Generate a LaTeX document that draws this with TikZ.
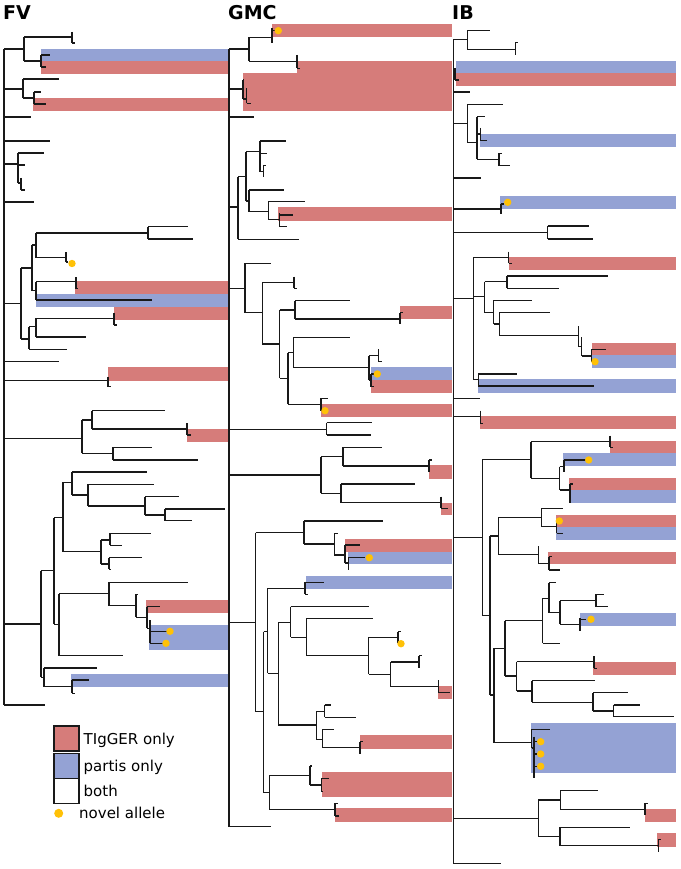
\documentclass[tikz,border=0pt]{standalone}
\usepackage{fontspec}
\setmainfont{DejaVu Sans}
\definecolor{redc}{RGB}{214,124,122}
\definecolor{bluec}{RGB}{148,162,212}
\definecolor{dotc}{RGB}{255,193,7}
\definecolor{linec}{RGB}{25,25,25}
\newcommand{\HB}[3]{\draw[br] (#2,#1) -- (#3,#1);}
\newcommand{\VB}[3]{\draw[br] (#1,#2) -- (#1,#3);}
\newcommand{\RB}[3]{\fill[redc] (#1,#2) rectangle (#3+0,#2+0) -- cycle;}
\begin{document}
\begin{tikzpicture}[x=1pt,y=-1pt,
  br/.style={draw=linec,line width=1.2pt,line cap=square},
  redbar/.style={fill=redc},
  bluebar/.style={fill=bluec},
  novel/.style={fill=dotc},
  title/.style={anchor=base west,inner sep=0pt,font=\fontsize{19}{22}\selectfont\bfseries},
  legtext/.style={anchor=base west,inner sep=0pt,font=\fontsize{15}{18}\selectfont},
  legbox/.style={draw=linec,line width=1.1pt}]
\useasboundingbox (0,0) rectangle (680,869);
\fill[white] (0,0) rectangle (680,869);
% ---------------- bars FV
\fill[bluebar] (41,49) rectangle (227.5,61);
\fill[redbar] (41,61) rectangle (227.5,74);
\fill[redbar] (33,98) rectangle (227.5,111);
\fill[redbar] (75,281) rectangle (227.5,294);
\fill[bluebar] (36,294) rectangle (227.5,307);
\fill[redbar] (114,307) rectangle (227.5,319.5);
\fill[redbar] (108,367) rectangle (227.5,381);
\fill[redbar] (187,428.5) rectangle (227.5,441.5);
\fill[redbar] (146,600) rectangle (227.5,613);
\fill[bluebar] (149,625) rectangle (227.5,650);
\fill[bluebar] (71,673.5) rectangle (227.5,686.5);
% ---------------- bars GMC
\fill[redbar] (272,24) rectangle (451.7,37);
\fill[redbar] (297,61) rectangle (451.7,73.5);
\fill[redbar] (243,73.5) rectangle (451.7,111);
\fill[redbar] (278.3,207.3) rectangle (451.7,220.7);
\fill[redbar] (400,306) rectangle (451.7,319.3);
\fill[bluebar] (370.7,367.3) rectangle (451.7,380);
\fill[redbar] (370.7,380) rectangle (451.7,392.7);
\fill[redbar] (321,404) rectangle (451.7,417.3);
\fill[redbar] (429,465.3) rectangle (451.7,478.7);
\fill[redbar] (441,502.7) rectangle (451.7,515.3);
\fill[redbar] (345,539) rectangle (451.7,551.7);
\fill[bluebar] (347.7,551.7) rectangle (451.7,564);
\fill[bluebar] (305.7,575.7) rectangle (451.7,589);
\fill[redbar] (438.3,686) rectangle (451.7,699.3);
\fill[redbar] (360,735.3) rectangle (451.7,748.7);
\fill[redbar] (321.7,771.7) rectangle (451.7,797.3);
\fill[redbar] (335,808.3) rectangle (451.7,821.7);
% ---------------- bars IB
\fill[bluebar] (456,61) rectangle (676,73.3);
\fill[redbar] (456,73.3) rectangle (676,86);
\fill[bluebar] (480,134.3) rectangle (676,147.3);
\fill[bluebar] (500,195.7) rectangle (676,209);
\fill[redbar] (508.7,256.7) rectangle (676,270);
\fill[redbar] (591.7,342.7) rectangle (676,355.3);
\fill[bluebar] (591.7,355.3) rectangle (676,368);
\fill[bluebar] (477.7,379.3) rectangle (676,392.7);
\fill[redbar] (480,416) rectangle (676,429.3);
\fill[redbar] (610,441) rectangle (676,453.3);
\fill[bluebar] (563.3,453.3) rectangle (676,466);
\fill[redbar] (569.3,477.7) rectangle (676,490);
\fill[bluebar] (569.3,490) rectangle (676,502.7);
\fill[redbar] (556,515) rectangle (676,527.3);
\fill[bluebar] (556,527.3) rectangle (676,540);
\fill[redbar] (548.3,551.7) rectangle (676,564.3);
\fill[bluebar] (580,612.7) rectangle (676,625.7);
\fill[redbar] (593.3,661.7) rectangle (676,675);
\fill[bluebar] (531,722.7) rectangle (676,772.7);
\fill[redbar] (645.3,809) rectangle (676,822.3);
\fill[redbar] (657.3,833.3) rectangle (676,846.7);
% ================= FV tree
\VB{4}{49}{705}
\HB{49}{4}{24}\VB{24}{37}{61}\HB{37}{24}{72}\VB{72}{32}{43}\HB{43}{72}{74.5}
\HB{61}{24}{41}\VB{41}{55}{67}\HB{55}{41}{50}\HB{67}{41}{46}
\HB{89}{4}{23}\VB{23}{79}{98}\HB{79}{23}{59}\HB{98}{23}{34}\VB{34}{92}{104}\HB{92}{34}{41}\HB{104}{34}{46}
\HB{117}{4}{30.5}
\HB{141}{4}{50}
\HB{164}{4}{18}\VB{18}{153}{183}\HB{153}{18}{44}\HB{165}{18}{25}\HB{183}{18}{21}\VB{21}{178}{190}\HB{190}{21}{25}
\HB{202}{4}{34}
\HB{303.7}{4}{21}\VB{21}{268}{339}\HB{268}{21}{32}\VB{32}{245}{290.7}\HB{245}{32}{36}\VB{36}{233}{257.7}
\HB{233}{36}{148}\VB{148}{226.7}{239}\HB{226.7}{148}{188}\HB{239}{148}{193}
\HB{257.7}{36}{66}\VB{66}{252}{262}\HB{262}{66}{68}
\HB{290.7}{32}{36}\VB{36}{281.7}{300}\HB{281.7}{36}{76}\VB{76}{277}{288.5}\HB{288.5}{76}{78}\HB{300}{36}{152}
\HB{339}{21}{29}\VB{29}{326.7}{349.3}\HB{349.3}{29}{67}\HB{326.7}{29}{36}\VB{36}{318.3}{337}
\HB{318.3}{36}{114}\VB{114}{312.7}{325}\HB{325}{114}{117}\HB{337}{36}{86}
\HB{361.7}{4}{59}
\HB{380.7}{4}{108}\VB{108}{376.7}{386.7}\HB{386.7}{108}{111}
\HB{438.3}{4}{82}\VB{82}{420}{453.3}\HB{420}{82}{92}\VB{92}{410.7}{429}\HB{410.7}{92}{165}\HB{429}{92}{187}
\VB{187}{423}{435}\HB{435}{187}{191}
\HB{453.3}{82}{113}\VB{113}{447.3}{460}\HB{447.3}{113}{152}\HB{460}{113}{198}
\HB{624}{4}{41}\VB{41}{570.7}{677.3}\HB{570.7}{41}{54}\VB{54}{517.7}{624.3}\HB{517.7}{54}{63}\VB{63}{482.3}{551.7}
\HB{482.3}{63}{72}\VB{72}{472}{495}\HB{472}{72}{147}\HB{495}{72}{88}\VB{88}{484.3}{506}\HB{484.3}{88}{154}
\HB{506}{88}{145}\VB{145}{496.7}{515}\HB{496.7}{145}{179}\HB{515}{145}{165}\VB{165}{509}{520.7}\HB{509}{165}{225}\HB{520.7}{165}{192}
\HB{551.7}{63}{101}\VB{101}{540}{564}\HB{540}{101}{110}\VB{110}{533.3}{545.3}\HB{533.3}{110}{151}\HB{545.3}{110}{122}
\HB{564}{101}{109}\VB{109}{557.7}{569.3}\HB{557.7}{109}{142}\HB{569.3}{109}{110.5}
\HB{624.3}{54}{59}\VB{59}{593.7}{655.7}\HB{593.7}{59}{109}\VB{109}{582.3}{605.7}\HB{582.3}{109}{188}
\HB{605.7}{109}{136}\VB{136}{594.3}{617.3}\HB{594.3}{136}{138}\HB{617.3}{136}{147}\VB{147}{606.7}{628.3}
\HB{606.7}{147}{160}\HB{628.3}{147}{150}\VB{150}{620}{643.3}\HB{631.3}{150}{167}\HB{643.3}{150}{163}
\HB{655.7}{59}{123}
\HB{677.3}{41}{44}\VB{44}{668}{686.7}\HB{668}{44}{97}\HB{686.7}{44}{72}\VB{72}{680}{693.3}\HB{680}{72}{89}\HB{693.3}{72}{75}
\HB{705}{4}{45}
% ================= GMC tree
\VB{229}{49}{826.7}
\HB{49}{229}{249}\VB{249}{37.3}{61.3}\HB{37.3}{249}{272}\VB{272}{28.3}{42.7}\HB{30.7}{272}{276}
\HB{61.3}{249}{297}\VB{297}{55}{68.3}\HB{68.3}{297}{300}
\HB{89}{229}{243}\VB{243}{80}{99}\HB{80}{243}{244}\HB{99}{243}{246.7}\VB{246.7}{88.3}{103.3}\HB{103.3}{246.7}{251}
\HB{117}{229}{254}
\HB{207}{229}{238}\VB{238}{176.7}{239.3}\HB{176.7}{238}{246}\VB{246}{151.7}{201}\HB{151.7}{246}{260}\VB{260}{141}{171.7}
\HB{141}{260}{286.3}\HB{153.3}{260}{267}\HB{171.7}{260}{263.7}\VB{263.7}{165}{176.7}\HB{165.7}{263.7}{266.3}
\HB{201}{246}{249}\VB{249}{190}{211.7}\HB{190}{249}{284.3}\HB{211.7}{249}{268.3}\VB{268.3}{201.7}{219.3}
\HB{201.7}{268.3}{305}\HB{219.3}{268.3}{279.3}\VB{279.3}{213.3}{226.7}\HB{215}{279.3}{292.7}\HB{226.7}{279.3}{287.3}
\HB{239.3}{238}{299}
\HB{288.3}{229}{245}\VB{245}{263.3}{312.7}\HB{263.3}{245}{271}\HB{312.7}{245}{262.3}\VB{262.3}{282.3}{344}
\HB{282.3}{262.3}{294}\VB{294}{276.7}{288.3}\HB{288.3}{294}{297}
\HB{344}{262.3}{279.7}\VB{279.7}{310}{378.3}\HB{310}{279.7}{295}\VB{295}{300.7}{319}\HB{300.7}{295}{349.7}
\HB{319}{295}{400}\VB{400}{312.7}{324.3}\HB{312.7}{400}{403.3}
\HB{378.3}{279.7}{288}\VB{288}{352.7}{404.3}\HB{352.7}{288}{293.7}\VB{293.7}{337.3}{367.7}\HB{337.3}{293.7}{349.7}
\HB{367.7}{293.7}{369}\VB{369}{355.7}{380}\HB{355.7}{369}{378.3}\VB{378.3}{349.3}{361.7}\HB{361.7}{378.3}{381.7}
\HB{380}{369}{371}\VB{371}{374}{386.7}\HB{374}{371}{374}\HB{386.7}{371}{373.5}
\HB{404.3}{288}{321}\VB{321}{398.3}{410.7}\HB{398.3}{321}{328}
\HB{429.3}{229}{326.7}\VB{326.7}{422.7}{435}\HB{422.7}{326.7}{372}\HB{435}{326.7}{370.7}
\HB{475}{229}{321}\VB{321}{456.7}{493.3}\HB{456.7}{321}{343}\VB{343}{447.3}{466}\HB{447.3}{343}{382}
\HB{466}{343}{429}\VB{429}{460}{471.7}\HB{460}{429}{431.5}
\HB{493.3}{321}{341}\VB{341}{484}{502.7}\HB{484}{341}{414.7}\HB{502.7}{341}{441}\VB{441}{496.7}{508.3}\HB{508.3}{441}{447.7}
\HB{622.3}{229}{255.7}\VB{255.7}{532.7}{711.7}\HB{532.7}{255.7}{304}\VB{304}{521}{544}\HB{521}{304}{383.3}
\HB{544}{304}{334.3}\VB{334.3}{533.3}{555}\HB{533.3}{334.3}{338}\HB{555}{334.3}{345}\VB{345}{545}{563}
\HB{545}{345}{360}\HB{563}{345}{348.3}\VB{348.3}{557.7}{570}\HB{557.7}{348.3}{365}
\HB{711.7}{255.7}{263.7}\VB{263.7}{631.7}{792.7}\HB{631.7}{263.7}{267.7}\VB{267.7}{588.3}{673.3}
\HB{588.3}{267.7}{305}\VB{305}{581.7}{594.3}\HB{582.3}{305}{324}\HB{594.3}{305}{308.3}
\HB{673.3}{267.7}{278.3}\VB{278.3}{622.3}{725}\HB{622.3}{278.3}{290.7}\VB{290.7}{606.7}{637.3}\HB{606.7}{290.7}{368.7}
\HB{637.3}{290.7}{306.3}\VB{306.3}{618.7}{655.7}\HB{618.7}{306.3}{372.7}\HB{655.7}{306.3}{368.7}\VB{368.7}{637.3}{674.3}
\HB{637.3}{368.7}{398}\VB{398}{631.7}{643}\HB{631.7}{398}{401}
\HB{674.3}{368.7}{390.7}\VB{390.7}{662}{686.7}\HB{662}{390.7}{419}\VB{419}{655.7}{668.3}\HB{655.7}{419}{422.3}
\HB{686.7}{390.7}{438.3}\VB{438.3}{680}{692.7}\HB{692.7}{438.3}{450}
\HB{725}{278.3}{316.3}\VB{316.3}{711.7}{739.3}\HB{711.7}{316.3}{324.7}\VB{324.7}{705}{717.3}\HB{705}{324.7}{330.7}\HB{717.3}{324.7}{356.3}
\HB{739.3}{316.3}{322.3}\VB{322.3}{729.3}{747.7}\HB{729.3}{322.3}{334.3}\HB{747.7}{322.3}{360}\VB{360}{741.7}{754}\HB{741.7}{360}{362.5}
\HB{792.7}{263.7}{269.3}\VB{269.3}{775.7}{809.3}\HB{775.7}{269.3}{310}\VB{310}{766}{785}\HB{766}{310}{312}
\HB{785}{310}{321.7}\VB{321.7}{778.3}{791.7}\HB{778.3}{321.7}{329}\HB{791.7}{321.7}{323}
\HB{809.3}{269.3}{335}\VB{335}{803.3}{816}\HB{803.3}{335}{338}\HB{816}{335}{339}
\HB{826.7}{229}{271}
% ================= IB tree
\VB{453.3}{39.3}{863.3}
\HB{39.3}{453.3}{467.3}\VB{467.3}{30.7}{49.3}\HB{30.7}{467.3}{490}\HB{49.3}{467.3}{515.3}\VB{515.3}{42.7}{55}\HB{42.7}{515.3}{518.3}
\HB{74}{453.3}{455}\VB{455}{68}{80}\HB{80}{455}{459.3}
\HB{92}{453.3}{470}
\HB{123.3}{453.3}{467.3}\VB{467.3}{104.3}{142.7}\HB{104.3}{467.3}{503.3}\HB{142.7}{467.3}{477}\VB{477}{116.7}{159.3}
\HB{116.7}{477}{484.7}\HB{134}{477}{480.7}\VB{480.7}{128}{140.7}\HB{140.7}{480.7}{487.3}
\HB{159.3}{477}{499}\VB{499}{153.3}{165.7}\HB{153.3}{499}{502}\HB{165.7}{499}{510}
\HB{178}{453.3}{480.7}
\HB{209}{453.3}{501}\VB{501}{204}{214}\HB{204}{501}{504}
\HB{232.7}{453.3}{547.7}\VB{547.7}{226}{239}\HB{226}{547.7}{589.3}\HB{239}{547.7}{592.7}
\HB{298.7}{453.3}{473.3}\VB{473.3}{257.7}{379.3}\HB{257.7}{473.3}{508.7}\VB{508.7}{251.7}{263.3}\HB{263.3}{508.7}{512}
\HB{296.7}{473.3}{484.7}\VB{484.7}{281.7}{312.7}\HB{281.7}{484.7}{507}\VB{507}{276}{288.3}\HB{276}{507}{608.3}\HB{288.3}{507}{558.7}
\HB{312.7}{484.7}{493.7}\VB{493.7}{300.3}{324}\HB{300.3}{493.7}{531.7}\HB{324}{493.7}{499.3}\VB{499.3}{312.7}{335.7}
\HB{312.7}{499.3}{550}\HB{335.7}{499.3}{578.3}\VB{578.3}{326}{346.7}\HB{346.7}{578.3}{581.7}\VB{581.7}{337.3}{356}
\HB{356}{581.7}{591.7}\VB{591.7}{349.3}{361.7}\HB{349.3}{591.7}{606}\HB{361.7}{591.7}{593}
\HB{379.3}{473.3}{478.3}\VB{478.3}{374}{386}\HB{374}{478.3}{516.7}\HB{386}{478.3}{594.3}
\HB{398.3}{453.3}{480.3}
\HB{416.7}{453.3}{480.3}\VB{480.3}{410.7}{423.3}\HB{423.3}{480.3}{483.3}
\HB{537.7}{453.3}{482.7}\VB{482.7}{459.3}{615.7}\HB{459.3}{482.7}{531}\VB{531}{441.7}{478.3}\HB{441.7}{531}{610}
\VB{610}{435.7}{447.3}\HB{447.3}{610}{612.7}\HB{478.3}{531}{559.7}\VB{559.7}{466.7}{490}\HB{466.7}{559.7}{564}
\VB{564}{460}{471.7}\HB{460}{564}{586}\HB{490}{559.7}{570}\VB{570}{484}{502.7}\HB{484}{570}{573.3}
\HB{615.7}{482.7}{490}\VB{490}{536}{695}\HB{536}{490}{498.3}\VB{498.3}{517.7}{554.3}\HB{517.7}{498.3}{541.7}
\VB{541.7}{508.3}{526.7}\HB{508.3}{541.7}{563}\HB{526.7}{541.7}{556.7}\VB{556.7}{520.7}{533.3}\HB{533.3}{556.7}{563}
\HB{554.3}{498.3}{538.3}\VB{538.3}{546}{563.3}\HB{563.3}{538.3}{549}\VB{549}{556.7}{570}\HB{556.7}{549}{551.7}\HB{570}{549}{559.7}
\HB{695}{490}{494}\VB{494}{648.3}{742.7}\HB{648.3}{494}{505}\VB{505}{620.7}{676}\HB{620.7}{505}{542.7}
\VB{542.7}{598.3}{643.3}\HB{598.3}{542.7}{549}\VB{549}{582.7}{612.7}\HB{582.7}{549}{556}\HB{612.7}{549}{560}
\VB{560}{600.7}{624.3}\HB{600.7}{560}{596}\VB{596}{594.3}{606.7}\HB{594.3}{596}{604}\HB{606.7}{596}{608.3}
\HB{624.3}{560}{580}\VB{580}{618.3}{630.7}\HB{619.3}{580}{586}\HB{643.3}{542.7}{560}
\HB{676}{505}{516.7}\VB{516.7}{661.7}{691}\HB{661.7}{516.7}{594}\VB{594}{656}{668.3}\HB{668.3}{594}{596.7}
\HB{691}{516.7}{532}\VB{532}{680.7}{702.3}\HB{680.7}{532}{595}\HB{702.3}{532}{593}\VB{593}{692.7}{711}
\HB{692.7}{593}{628}\HB{711}{593}{613.7}\VB{613.7}{705}{716.7}\HB{705}{613.7}{640}\HB{716.7}{613.7}{674}
\HB{742.7}{494}{531.7}\VB{531.7}{729.3}{748}\HB{729.3}{531.7}{550}\HB{748}{531.7}{534}\VB{534}{736.7}{778.3}
\HB{741.7}{534}{537}\HB{754}{534}{537}\HB{766.3}{534}{537}
\HB{818.3}{453.3}{538.3}\VB{538.3}{800}{836.7}\HB{800}{538.3}{560.3}\VB{560.3}{790.7}{809.3}\HB{790.7}{560.3}{598}
\HB{809.3}{560.3}{645}\VB{645}{803.3}{815}\HB{803.3}{645}{648}\HB{836.7}{538.3}{560}\VB{560}{827.3}{845.7}
\HB{827.3}{560}{630}\HB{845.7}{560}{658.3}\VB{658.3}{839.3}{851.7}\HB{839.3}{658.3}{661}
\HB{863.3}{453.3}{501}
% ================= novel allele dots
\foreach \p in {(72,263.5),(170,631.3),(166,643.3),
  (278.3,30.7),(377.3,374),(325,410.7),(369.3,557.7),(401,643.7),
  (507.7,202.3),(595,361.7),(588.7,460),(559.3,521),(591,619.3),(540.7,741.7),(540.7,754),(540.7,766.3)}
  \fill[novel] \p circle (3.7pt);
% ================= titles
\node[title] (tFV) at (3,19.3) {FV};
\node[title] (tGMC) at (228,19.3) {GMC};
\node[title] (tIB) at (452,19.3) {IB};
% ================= legend
\draw[legbox,fill=redc] (54,726) rectangle (79,751);
\draw[legbox,fill=bluec] (54,753.3) rectangle (79,778.3);
\draw[legbox,fill=white] (54,778.3) rectangle (79,803.3);
\fill[novel] (58.7,813.3) circle (4.5pt);
\node[legtext] (l1) at (83.5,744.5) {TIgGER only};
\node[legtext] (l2) at (83.5,771.5) {partis only};
\node[legtext] (l3) at (83.5,796) {both};
\node[legtext] (l4) at (79,818.5) {novel allele};
\end{tikzpicture}
\end{document}
